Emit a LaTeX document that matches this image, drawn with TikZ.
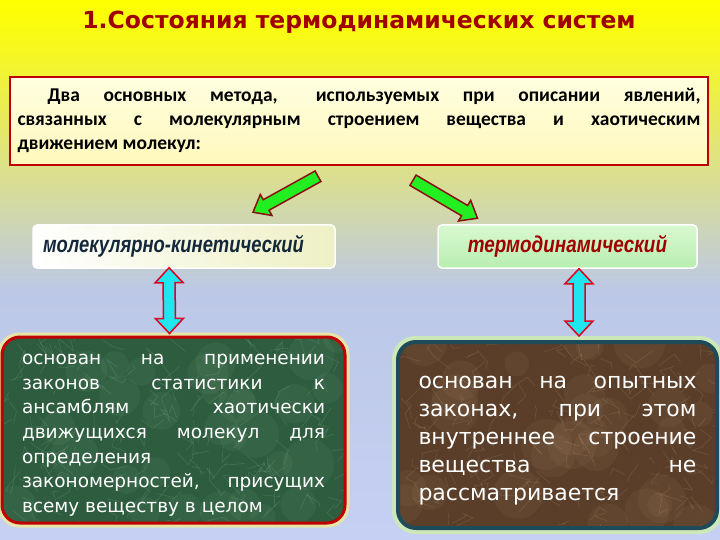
\documentclass[tikz,border=0pt]{standalone}
\usepackage{fontspec}
\setmainfont{DejaVu Sans}
\newfontfamily\calibrifont{Carlito}
\newfontfamily\arialfont{Liberation Sans}
\usetikzlibrary{calc}
\definecolor{titlered}{HTML}{A00000}
\definecolor{boxred}{HTML}{C00000}
\definecolor{introtop}{HTML}{FFFFE0}
\definecolor{introbottom}{HTML}{FFF8BC}
\definecolor{labelyellow}{HTML}{EEF0C4}
\definecolor{labelgreentop}{HTML}{D8F8D0}
\definecolor{labelgreenbottom}{HTML}{B8EEB0}
\definecolor{arrowgreen}{HTML}{22EE22}
\definecolor{arrowrim}{HTML}{8C1010}
\definecolor{arrowcyan}{HTML}{20E6F0}
\definecolor{cyanrim}{HTML}{E00020}
\definecolor{marblegreen}{HTML}{2E5C3E}
\definecolor{marblebrown}{HTML}{5A3E29}
\definecolor{veingreen}{HTML}{9CC8A8}
\definecolor{veinbrown}{HTML}{C8A880}
\definecolor{tealrim}{HTML}{1E4A5A}
\definecolor{glowyellow}{HTML}{E6E6A8}
\definecolor{glowgreen}{HTML}{CDE8B8}
\definecolor{labelnavy}{HTML}{13283A}
\definecolor{bga}{HTML}{FFFF00}
\definecolor{bgb}{HTML}{F6F820}
\definecolor{bgc}{HTML}{DCE08C}
\definecolor{bgd}{HTML}{BCC8E6}
\definecolor{bge}{HTML}{C6D0F4}
\tikzstyle{box_top} = [draw=boxred, line width=2.5pt, top color=introtop, bottom color=introbottom, minimum width=698pt, minimum height=88pt, inner sep=0pt]
\tikzstyle{box_label} = [draw=white, line width=1.5pt, rounded corners=4pt, minimum height=43pt, inner sep=0pt]
\tikzstyle{box_marble} = [line width=3pt, rounded corners=18pt, minimum height=186pt, inner sep=0pt, text=white]
\tikzstyle{arrow_green} = [fill=arrowgreen, draw=arrowrim, line width=1.5pt, line join=miter]
\tikzstyle{arrow_cyan} = [fill=arrowcyan, draw=cyanrim, line width=1.5pt, line join=miter]
\newlength{\jskip}
\newcommand{\jline}[2]{\hbox to #1{\vrule height .72\jskip depth .28\jskip width 0pt\relax #2}}
\newcommand{\fatarrow}[2]{%
  \coordinate (fa-neck) at ($(#2)!15pt!(#1)$);
  \draw[arrow_green] ($(#1)!6pt!90:(#2)$) -- ($(fa-neck)!6pt!90:(#2)$) -- ($(fa-neck)!12pt!90:(#2)$) -- (#2)
    -- ($(fa-neck)!12pt!-90:(#2)$) -- ($(fa-neck)!6pt!-90:(#2)$) -- ($(#1)!6pt!-90:(#2)$) -- cycle;
}
\newcommand{\twoarrow}[2]{%
  \coordinate (ta-n1) at ($(#1)!15pt!(#2)$);
  \coordinate (ta-n2) at ($(#2)!15pt!(#1)$);
  \draw[arrow_cyan] (#1) -- ($(ta-n1)!14pt!90:(#2)$) -- ($(ta-n1)!6pt!90:(#2)$) -- ($(ta-n2)!6pt!-90:(#1)$)
    -- ($(ta-n2)!14pt!-90:(#1)$) -- (#2) -- ($(ta-n2)!14pt!90:(#1)$) -- ($(ta-n2)!6pt!90:(#1)$)
    -- ($(ta-n1)!6pt!-90:(#2)$) -- ($(ta-n1)!14pt!-90:(#2)$) -- cycle;
}

\begin{document}
\begin{tikzpicture}[x=1pt,y=-1pt]
  \useasboundingbox (0,0) rectangle (720,540);
  % background
  \shade[top color=bga, bottom color=bgb] (0,0) rectangle (720,50.5);
  \shade[top color=bgb, bottom color=bgc] (0,50) rectangle (720,170.5);
  \shade[top color=bgc, bottom color=bgd] (0,170) rectangle (720,290.5);
  \shade[top color=bgd, bottom color=bge] (0,290) rectangle (720,540);

  \node (title) at (359,22) [text=titlered] {\fontsize{23.5}{28}\selectfont\bfseries 1.Состояния термодинамических систем};

  \node (intro) at (359,121) [box_top] {\calibrifont\bfseries\fontsize{19.5}{24}\selectfont
    \setlength{\jskip}{24pt}\vbox{\offinterlineskip
    \jline{683pt}{\hspace*{30pt}Два\hfill основных\hfill метода,\hfill\hspace{10pt} используемых\hfill при\hfill описании\hfill явлений,}
    \jline{683pt}{связанных\hfill с\hfill молекулярным\hfill строением\hfill вещества\hfill и\hfill хаотическим}
    \jline{683pt}{движением молекул:\hfil}\kern2pt}};

  \node (mk) at (184,246.5) [box_label, left color=white, right color=labelyellow, minimum width=302pt, text width=282pt, align=left, text=labelnavy]
    {\arialfont\bfseries\itshape\fontsize{23}{26}\selectfont\scalebox{0.8}[1]{молекулярно-кинетический}};
  \node (td) at (567.5,246.5) [box_label, top color=labelgreentop, bottom color=labelgreenbottom, minimum width=259pt, text=titlered]
    {\arialfont\bfseries\itshape\fontsize{23}{26}\selectfont\scalebox{0.82}[1]{термодинамический}};

  % marble boxes: glow, fill, veins, then the named node on top
  \draw[glowyellow, line width=4pt, rounded corners=20pt] (-0.5,334.5) rectangle (347.5,525.5);
  \draw[glowgreen, line width=5pt, rounded corners=21pt] (394.5,338.5) rectangle (720.5,531.5);
  \fill[marblegreen, rounded corners=18pt] (2,337) rectangle (345,523);
  \fill[marblebrown, rounded corners=18pt] (398,342) rectangle (717,528);
  \pgfmathsetseed{11}
  \begin{scope}
    \clip[rounded corners=18pt] (2,337) rectangle (345,523);
    \foreach \i in {1,...,30}
      \fill[veingreen, opacity=0.07] ({173+170*rand},{430+95*rand}) circle ({12+14*rnd});
    \foreach \i in {1,...,160}
      \draw[veingreen, opacity=0.2, line width=0.6pt] ({173+170*rand},{430+95*rand}) -- ++({18*rand},{18*rand}) -- ++({14*rand},{14*rand});
  \end{scope}
  \begin{scope}
    \clip[rounded corners=18pt] (398,342) rectangle (717,528);
    \foreach \i in {1,...,30}
      \fill[veinbrown, opacity=0.07] ({557+160*rand},{435+95*rand}) circle ({12+14*rnd});
    \foreach \i in {1,...,160}
      \draw[veinbrown, opacity=0.2, line width=0.6pt] ({557+160*rand},{435+95*rand}) -- ++({18*rand},{18*rand}) -- ++({14*rand},{14*rand});
  \end{scope}

  \node (lbox) at (173.5,430) [box_marble, draw=boxred, minimum width=343pt]
    {\fontsize{18.5}{24.7}\selectfont\setlength{\jskip}{24.7pt}\vbox{\offinterlineskip\kern6pt
    \jline{303pt}{основан\hfill на\hfill применении}
    \jline{303pt}{законов\hfill статистики\hfill к}
    \jline{303pt}{ансамблям\hfill хаотически}
    \jline{303pt}{движущихся\hfill молекул\hfill для}
    \jline{303pt}{определения\hfil}
    \jline{303pt}{закономерностей,\hfill присущих}
    \jline{303pt}{всему веществу в целом\hfil}}};
  \node (rbox) at (557.5,435) [box_marble, draw=tealrim, line width=4pt, minimum width=319pt]
    {\fontsize{22}{28}\selectfont\setlength{\jskip}{28pt}\vbox{\offinterlineskip\kern6pt
    \jline{278pt}{основан\hfill на\hfill опытных}
    \jline{278pt}{законах,\hfill при\hfill этом}
    \jline{278pt}{внутреннее\hfill строение}
    \jline{278pt}{вещества\hfill не}
    \jline{278pt}{рассматривается\hfil}}};

  % connectors
  \coordinate (g1) at ($(intro.south)+(-41,10)$);
  \coordinate (g1tip) at ($(mk.north)+(69,-12)$);
  \coordinate (g2) at ($(intro.south)+(54,14)$);
  \coordinate (g2tip) at ($(td.north)+(-90,-6)$);
  \fatarrow{g1}{g1tip}
  \fatarrow{g2}{g2tip}
  \coordinate (d1) at ($(mk.south)+(-15,-1)$);
  \coordinate (d1b) at ($(lbox.north)+(-4,-2)$);
  \coordinate (d2) at ($(td.south)+(11.5,0)$);
  \coordinate (d2b) at ($(rbox.north)+(21.5,-4)$);
  \twoarrow{d1}{d1b}
  \twoarrow{d2}{d2b}
\end{tikzpicture}
\end{document}
